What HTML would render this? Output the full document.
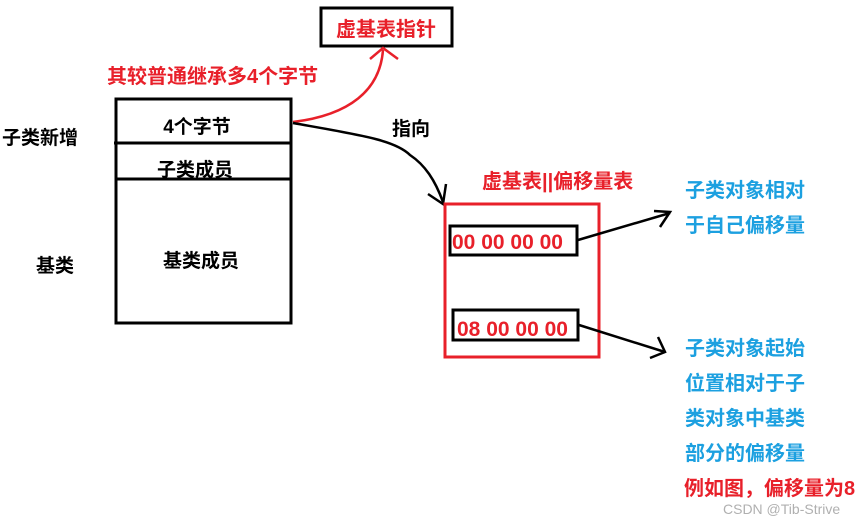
<!DOCTYPE html>
<html><head><meta charset="utf-8"><style>
body{margin:0;background:#fff}
svg text{font-family:"Liberation Sans","Noto Sans CJK SC",sans-serif;font-weight:bold}
</style></head><body>
<svg width="863" height="524" viewBox="0 0 863 524" xmlns="http://www.w3.org/2000/svg">
<rect width="863" height="524" fill="#fff"/>
<rect x="116" y="99" width="175" height="224" fill="none" stroke="#000" stroke-width="3"/>
<line x1="114" y1="143" x2="291" y2="143" stroke="#000" stroke-width="3"/>
<line x1="116" y1="179" x2="291" y2="179" stroke="#000" stroke-width="3"/>
<text x="197" y="133" font-size="19" text-anchor="middle">4个字节</text>
<text x="195" y="176" font-size="19" text-anchor="middle">子类成员</text>
<text x="201" y="267" font-size="19" text-anchor="middle">基类成员</text>
<text x="2" y="144" font-size="19">子类新增</text>
<text x="36" y="272" font-size="19">基类</text>
<rect x="321" y="8" width="131" height="38" fill="none" stroke="#000" stroke-width="3"/>
<text x="386" y="36" font-size="20" fill="#e8202a" text-anchor="middle">虚基表指针</text>
<text x="107" y="83" font-size="20" fill="#e8202a">其较普通继承多4个字节</text>
<path d="M293 122 C350 115 380 90 383 50" fill="none" stroke="#e8202a" stroke-width="2.5"/>
<path d="M370 59 L383 48 L398 59" fill="none" stroke="#e8202a" stroke-width="2.5"/>
<path d="M293 123 C360 135 395 140 410 155 C425 165 435 180 443 202" fill="none" stroke="#000" stroke-width="2.5"/>
<path d="M428 194 L443 204 L446 184" fill="none" stroke="#000" stroke-width="2.5"/>
<text x="392" y="135" font-size="19">指向</text>
<text x="482" y="188" font-size="20" fill="#e8202a">虚基表||偏移量表</text>
<rect x="445" y="204" width="154" height="153" fill="none" stroke="#e8202a" stroke-width="3"/>
<rect x="450" y="226" width="127" height="29" fill="#fff" stroke="#000" stroke-width="3"/>
<text x="452" y="249" font-size="21" fill="#e8202a">00 00 00 00</text>
<rect x="453" y="310" width="125" height="30" fill="#fff" stroke="#000" stroke-width="3"/>
<text x="457" y="336" font-size="21" fill="#e8202a">08 00 00 00</text>
<line x1="578" y1="240" x2="670" y2="213" stroke="#000" stroke-width="2.5"/>
<path d="M654 211 L670 212 L660 227" fill="none" stroke="#000" stroke-width="2.5"/>
<line x1="579" y1="325" x2="665" y2="352" stroke="#000" stroke-width="2.5"/>
<path d="M658 337 L665 352 L650 358" fill="none" stroke="#000" stroke-width="2.5"/>
<g font-size="20" fill="#1ca0e0">
<text x="685" y="197">子类对象相对</text>
<text x="685" y="232">于自己偏移量</text>
<text x="685" y="355">子类对象起始</text>
<text x="685" y="390">位置相对于子</text>
<text x="685" y="425">类对象中基类</text>
<text x="685" y="460">部分的偏移量</text>
</g>
<text x="684" y="495" font-size="20" fill="#e8202a">例如图，偏移量为8</text>
<text x="723" y="514" font-size="14" fill="#b0b0b0" style="font-weight:normal">CSDN @Tib-Strive</text>
</svg>
</body></html>
